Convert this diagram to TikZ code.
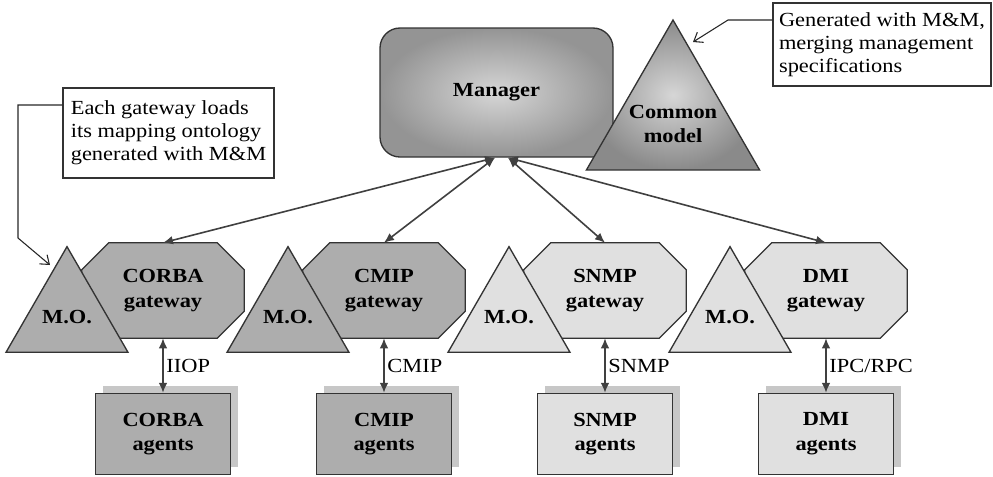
\documentclass[tikz,border=0pt]{standalone}
\usepackage{fontspec}
\setmainfont[FakeStretch=1.12]{Liberation Serif}
\usepackage{tikz}
\usetikzlibrary{arrows.meta, positioning, shapes.geometric, shadows, backgrounds, calc}

\begin{document}
\begin{tikzpicture}[
      x=0.75pt, y=-0.75pt,
      every node/.style={font=\fontsize{15}{18}\selectfont},
      boldtext/.style={font=\fontsize{15}{18.5}\selectfont\bfseries},
      mgrbox/.style={draw=black!80, line width=1pt, rounded corners=15pt, minimum width=174.75pt, minimum height=96.75pt, inner color=black!16, outer color=black!42, boldtext},
      modeltri/.style={draw=black!80, line width=1pt, regular polygon, regular polygon sides=3, minimum size=150pt, inner sep=0pt, inner color=black!16, outer color=black!46},
      gwbox/.style={minimum width=121.5pt, minimum height=71.25pt, inner sep=0pt, align=center, boldtext},
      gwline/.style={draw=black!80, line width=1pt, line join=miter},
      motri/.style={draw=black!80, line width=1pt, regular polygon, regular polygon sides=3, minimum size=100.5pt, inner sep=0pt, boldtext},
      agentbox/.style={draw=black!80, line width=1pt, minimum width=101.25pt, minimum height=60.75pt, align=center, boldtext, general shadow={fill=black!22, draw=none, shadow xshift=5.25pt, shadow yshift=5.25pt}},
      darkfill/.style={fill=black!32},
      lightfill/.style={fill=black!12},
      link/.style={{Latex[length=7.5pt,width=6.5pt]}-{Latex[length=7.5pt,width=6.5pt]}, line width=1.2pt, draw=black!75},
      note/.style={draw=black!80, line width=0.8pt, align=left, font=\fontsize{15}{17.25}\selectfont},
      pointer/.style={-{Straight Barb[length=6pt,width=9pt]}, line width=0.8pt, draw=black!85}
    ]
      \useasboundingbox (0,0) rectangle (993,476);

      % Manager and common model
      \node[mgrbox] (manager) at (496.5,92.5) {Manager};
      \node[modeltri] (model) at (673,120) {};
      \node[boldtext, align=center] (modelText) at ([yshift=-3pt]model.center) {Common\\model};

      % Gateways (outlines drawn on the background layer below)
      \node[gwbox] (corbaGw) at (163,290.5) {CORBA\\gateway};
      \node[gwbox] (cmipGw) at (384,290.5) {CMIP\\gateway};
      \node[gwbox] (snmpGw) at (605,290.5) {SNMP\\gateway};
      \node[gwbox] (dmiGw) at (826,290.5) {DMI\\gateway};

      \begin{pgfonlayer}{background}
        \foreach \gw/\gwfill in {corbaGw/darkfill, cmipGw/darkfill, snmpGw/lightfill, dmiGw/lightfill}
          \draw[gwline, \gwfill] ([xshift=20.25pt]\gw.north west) -- ([xshift=-20.25pt]\gw.north east)
            -- ([yshift=-20.25pt]\gw.north east) -- ([yshift=20.25pt]\gw.south east)
            -- ([xshift=-20.25pt]\gw.south east) -- ([xshift=20.25pt]\gw.south west)
            -- ([yshift=20.25pt]\gw.south west) -- ([yshift=-20.25pt]\gw.north west) -- cycle;
      \end{pgfonlayer}

      % Mapping ontologies in front of the gateways
      \node[motri, darkfill] (corbaMO) at ([xshift=-72pt, yshift=-19.9pt]corbaGw.center) {M.O.};
      \node[motri, darkfill] (cmipMO) at ([xshift=-72pt, yshift=-19.9pt]cmipGw.center) {M.O.};
      \node[motri, lightfill] (snmpMO) at ([xshift=-72pt, yshift=-19.9pt]snmpGw.center) {M.O.};
      \node[motri, lightfill] (dmiMO) at ([xshift=-72pt, yshift=-19.9pt]dmiGw.center) {M.O.};

      % Agents below each gateway
      \node[agentbox, darkfill] (corbaAg) at ([yshift=-107.6pt]corbaGw.center) {CORBA\\agents};
      \node[agentbox, darkfill] (cmipAg) at ([yshift=-107.6pt]cmipGw.center) {CMIP\\agents};
      \node[agentbox, lightfill] (snmpAg) at ([yshift=-107.6pt]snmpGw.center) {SNMP\\agents};
      \node[agentbox, lightfill] (dmiAg) at ([yshift=-107.6pt]dmiGw.center) {DMI\\agents};

      % Manager <-> gateways
      \coordinate (mgrL) at ([xshift=-1.1pt]manager.south);
      \coordinate (mgrR) at ([xshift=8.6pt]manager.south);
      \draw[link] (mgrL) -- (corbaGw.north);
      \draw[link] (mgrL) -- (cmipGw.north);
      \draw[link] (mgrR) -- (snmpGw.north);
      \draw[link] (mgrR) -- (dmiGw.north);

      % Gateway <-> agents protocols
      \draw[link] (corbaGw.south) -- (corbaAg.north) node[midway, right, inner sep=2pt] {IIOP};
      \draw[link] (cmipGw.south) -- (cmipAg.north) node[midway, right, inner sep=2pt] {CMIP};
      \draw[link] (snmpGw.south) -- (snmpAg.north) node[midway, right, inner sep=2pt] {SNMP};
      \draw[link] (dmiGw.south) -- (dmiAg.north) node[midway, right, inner sep=2pt] {IPC/RPC};

      % Notes
      \node[note, minimum width=158.25pt, minimum height=67.5pt] (leftnote) at (168.5,133) {Each gateway loads\\its mapping ontology\\generated with M\&M};
      \node[note, minimum width=163.5pt, minimum height=62.25pt] (rightnote) at (882,44.5) {Generated with M\&M,\\merging management\\specifications};

      \coordinate (leftbend) at (18,238);
      \coordinate (lefttip) at (50,265);
      \draw[pointer] ([yshift=21pt]leftnote.west) -| (leftbend) -- (lefttip);

      \coordinate (rightbend) at (728,20);
      \coordinate (righttip) at (693,42);
      \draw[pointer] ([yshift=18.4pt]rightnote.west) -- (rightbend) -- (righttip);

    \end{tikzpicture}
\end{document}
